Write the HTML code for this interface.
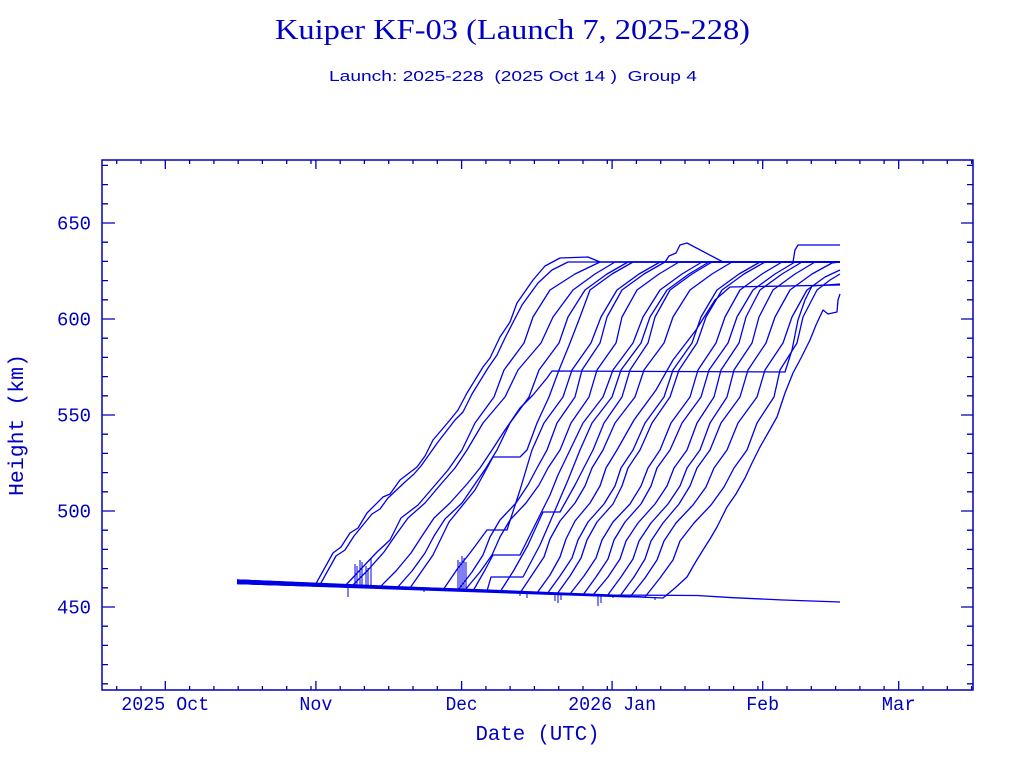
<!DOCTYPE html>
<html><head><meta charset="utf-8"><style>
html,body{margin:0;padding:0;background:#fff;}
svg{display:block;}
</style></head><body>
<svg width="1024" height="768" viewBox="0 0 1024 768" xmlns="http://www.w3.org/2000/svg">
<rect x="0" y="0" width="1024" height="768" fill="#ffffff"/>

<!-- Titles -->
<text x="512.5" y="39" text-anchor="middle" font-family="Liberation Serif, serif" font-size="28" textLength="475" lengthAdjust="spacingAndGlyphs" fill="#0000c0">Kuiper KF-03 (Launch 7, 2025-228)</text>
<text x="513" y="81" text-anchor="middle" font-family="Liberation Sans, sans-serif" font-size="15" textLength="368" lengthAdjust="spacingAndGlyphs" fill="#0000c0" xml:space="preserve">Launch: 2025-228  (2025 Oct 14 )  Group 4</text>

<!-- Frame -->
<rect x="102" y="160" width="871" height="530" fill="none" stroke="#0000b8" stroke-width="1.5"/>

<!-- Ticks -->
<g stroke="#0000b8" stroke-width="1.3" fill="none">
<path d="M165.3,690v-9M315.9,690v-9M461.6,690v-9M612.1,690v-9M762.7,690v-9M898.7,690v-9
M165.3,160v9M315.9,160v9M461.6,160v9M612.1,160v9M762.7,160v9M898.7,160v9"/>
<path d="M116.7,690v-4M141,690v-4M189.6,690v-4M213.9,690v-4M238.2,690v-4M262.4,690v-4M286.7,690v-4M311,690v-4M340.2,690v-4M364.4,690v-4M388.7,690v-4M413,690v-4M437.3,690v-4M485.9,690v-4M510.1,690v-4M534.4,690v-4M558.7,690v-4M583,690v-4M607.3,690v-4M636.4,690v-4M660.7,690v-4M685,690v-4M709.3,690v-4M733.6,690v-4M757.9,690v-4M787,690v-4M811.3,690v-4M835.6,690v-4M859.9,690v-4M884.1,690v-4M923,690v-4M947.3,690v-4M971.6,690v-4
M116.7,160v4M141,160v4M189.6,160v4M213.9,160v4M238.2,160v4M262.4,160v4M286.7,160v4M311,160v4M340.2,160v4M364.4,160v4M388.7,160v4M413,160v4M437.3,160v4M485.9,160v4M510.1,160v4M534.4,160v4M558.7,160v4M583,160v4M607.3,160v4M636.4,160v4M660.7,160v4M685,160v4M709.3,160v4M733.6,160v4M757.9,160v4M787,160v4M811.3,160v4M835.6,160v4M859.9,160v4M884.1,160v4M923,160v4M947.3,160v4M971.6,160v4"/>
<path d="M102,607h13M102,511h13M102,415h13M102,319h13M102,223h13
M973,607h-12M973,511h-12M973,415h-12M973,319h-12M973,223h-12"/>
<path d="M102,683.8h6M102,664.6h6M102,645.4h6M102,626.2h6M102,587.8h6M102,568.6h6M102,549.4h6M102,530.2h6M102,491.8h6M102,472.6h6M102,453.4h6M102,434.2h6M102,395.8h6M102,376.6h6M102,357.4h6M102,338.2h6M102,299.8h6M102,280.6h6M102,261.4h6M102,242.2h6M102,203.8h6M102,184.6h6M102,165.4h6
M973,683.8h-6M973,664.6h-6M973,645.4h-6M973,626.2h-6M973,587.8h-6M973,568.6h-6M973,549.4h-6M973,530.2h-6M973,491.8h-6M973,472.6h-6M973,453.4h-6M973,434.2h-6M973,395.8h-6M973,376.6h-6M973,357.4h-6M973,338.2h-6M973,299.8h-6M973,280.6h-6M973,261.4h-6M973,242.2h-6M973,203.8h-6M973,184.6h-6M973,165.4h-6"/>
</g>

<!-- Tick labels -->
<g font-family="Liberation Mono, monospace" font-size="19" fill="#0000c0" text-anchor="end">
<text x="91" y="613.5" textLength="34" lengthAdjust="spacingAndGlyphs">450</text>
<text x="91" y="517.5" textLength="34" lengthAdjust="spacingAndGlyphs">500</text>
<text x="91" y="421.5" textLength="34" lengthAdjust="spacingAndGlyphs">550</text>
<text x="91" y="325.5" textLength="34" lengthAdjust="spacingAndGlyphs">600</text>
<text x="91" y="229.5" textLength="34" lengthAdjust="spacingAndGlyphs">650</text>
</g>
<g font-family="Liberation Mono, monospace" font-size="19" fill="#0000c0" text-anchor="middle">
<text x="165.3" y="710" textLength="88" lengthAdjust="spacingAndGlyphs">2025 Oct</text>
<text x="315.9" y="710" textLength="33" lengthAdjust="spacingAndGlyphs">Nov</text>
<text x="461.6" y="710" textLength="32" lengthAdjust="spacingAndGlyphs">Dec</text>
<text x="612.1" y="710" textLength="88" lengthAdjust="spacingAndGlyphs">2026 Jan</text>
<text x="762.7" y="710" textLength="33" lengthAdjust="spacingAndGlyphs">Feb</text>
<text x="898.7" y="710" textLength="34" lengthAdjust="spacingAndGlyphs">Mar</text>
</g>

<!-- Axis titles -->
<text x="537.5" y="740" text-anchor="middle" font-family="Liberation Mono, monospace" font-size="21" textLength="124" lengthAdjust="spacingAndGlyphs" fill="#0000c0">Date (UTC)</text>
<text transform="translate(23,425) rotate(-90)" x="0" y="0" text-anchor="middle" font-family="Liberation Mono, monospace" font-size="21" textLength="142" lengthAdjust="spacingAndGlyphs" fill="#0000c0">Height (km)</text>

<!-- Data -->
<g fill="none" stroke="#0000e6" stroke-width="1.3" stroke-linejoin="round">
<polyline points="237,580 316,583.6 333,553 341,547 350,533 358,528 367,513 383,497 390,494 400,480 417,467 425,456 433,440 450,420 458,410 467,393 483,367 490,358 500,337 510,322 517,303 533,280 545,266 560,258 588,257 600,262 840,262"/>
<polyline points="237,581 320,584.7 336,556 345,550 354,536 372,514 380,509 388,498 405,482 414,474 421,466 438,442 455,420 463,412 472,394 488,368 497,355 505,338 522,305 538,283 552,270 568,262 840,262"/>
<polyline points="237,582 345,586 360,570 377,552 390,540 401,518 418,505 436,484 448,470 462,450 475,423 494,397 504,370 524,343 533,317 550,290 575,274 600,262 840,262"/>
<polyline points="237,583 352,586 368,570 384,552 395,536 408,518 425,503 441,484 455,468 467,450 483,423 505,397 518,370 541,343 553,317 573,290 595,274 615,262 840,262"/>
<polyline points="237,582.5 380,587 396,571 411,553 422,536 434,518 450,503 467,484 480,468 492,450 505,430 520,408 533,395 547,378 552,371 785,372 792,350 798,320 805,300 812,286 840,284"/>
<polyline points="237,583.5 397,588 412,571 425,553 434,536 445,519 462,503 475,484 486,468 497,450 510,423 529,397 539,370 559,343 568,317 585,290 607,274 628,262 840,262"/>
<polyline points="237,580 410,588 433,555 449,522 475,490 493,457 520,457 527,450 537,423 549,397 559,370 570,343 580,317 590,290 612,274 633,262 840,262"/>
<polyline points="237,581 443,590 458,568 470,553 487,530 507,530 520,490 532,450 544,423 563,397 572,370 591,343 601,317 617,290 639,274 660,262 840,262"/>
<polyline points="237,582 458,590 472,572 483,555 490,537 500,520 516,503 528,485 537,468 547,450 557,423 575,397 582,370 600,343 607,317 622,290 644,274 665,262 669,256 676,253 680,245 687,243 723,262 840,262"/>
<polyline points="237,583 465,590 480,572 492,555 500,537 510,520 526,503 539,485 548,468 560,450 571,423 589,397 597,370 616,343 622,317 637,290 659,274 679,262 840,262"/>
<polyline points="237,583.5 473,591 485,570 493,555 520,555 535,525 550,495 558,475 570,450 583,423 603,397 613,370 633,343 643,317 660,290 682,274 702,262 840,262"/>
<polyline points="237,580.5 487,591 491,577 523,577 540,545 553,515 568,480 580,450 592,423 612,397 621,370 641,343 650,317 667,290 689,274 709,262 840,262"/>
<polyline points="237,581.5 500,592 514,570 528,545 543,512 560,512 575,485 593,450 604,423 622,397 630,370 648,343 655,317 670,290 692,274 712,262 840,262"/>
<polyline points="237,582.5 520,593 532,575 544,557 550,539 560,521 575,503 585,486 592,468 603,450 615,423 635,397 644,370 664,343 673,317 690,290 712,274 732,262 840,262"/>
<polyline points="237,583.5 537,593 550,575 560,557 566,539 575,521 590,503 600,486 606,468 617,450 634,420 656,390 673,360 696,330 715,300 730,287 840,285"/>
<polyline points="237,580 547,594 560,576 572,558 578,540 588,522 604,504 615,486 621,468 633,450 645,423 664,397 673,370 692,343 701,317 717,290 739,274 760,262 840,262"/>
<polyline points="237,581 557,594 570,576 581,558 587,540 597,522 613,504 622,486 628,468 640,450 652,423 670,397 679,370 697,343 706,317 722,290 744,274 765,262 840,262"/>
<polyline points="237,582 570,594 584,576 596,558 602,540 613,522 630,504 641,486 648,468 660,450 671,423 690,397 698,370 716,343 725,317 740,290 762,274 782,262 793,262 795,250 798,245 840,245"/>
<polyline points="237,583 583,595 596,577 608,559 614,540 625,522 641,504 651,486 657,468 670,450 682,423 701,397 709,370 728,343 737,317 753,290 775,274 795,262 840,262"/>
<polyline points="237,580.5 593,595 608,577 620,559 626,541 638,523 655,504 667,486 674,468 687,450 697,423 714,397 721,370 739,343 746,317 760,290 782,274 802,262 840,262"/>
<polyline points="237,581.5 607,596 621,577 633,559 639,541 651,523 668,504 680,486 687,468 700,450 710,423 727,397 734,370 752,343 759,317 773,290 795,274 815,262 840,262"/>
<polyline points="237,582.5 620,596 634,577 645,559 651,541 663,523 679,504 690,486 697,468 710,450 721,423 740,397 748,370 766,343 775,317 790,290 812,274 832,263 840,262"/>
<polyline points="237,583.5 630,597 645,578 657,560 664,541 676,523 693,505 706,487 714,468 727,450 738,423 757,397 765,370 783,343 792,317 807,290 825,277 840,270"/>
<polyline points="237,580 645,597 660,578 673,560 680,541 694,523 711,505 724,487 734,468 747,450 757,423 774,397 780,370 797,343 803,317 817,290 830,280 840,274"/>
<polyline points="237,581 663,598 675,588 687,577 695,563 703,550 710,539 717,527 727,507 736,494 745,478 752,463 760,447 768,433 777,417 785,393 793,373 801,358 810,340 816,325 823,310 828,314 837,312 838,300 840,294"/>
<polyline points="237,582 460,589 560,593 612,595 697,595.5 733,597.7 783,600 840,602"/>
</g>
<!-- spikes -->
<g fill="none" stroke="#0000e6" stroke-width="1">
<path d="M355,586V564M357,586V566M360,586V560M362,586V562M366,586V566M368,586V568M371,587V558M458,590V560M460,590V562M462,590V556M464,590V558M466,590V562M348,585V597M527,592V598M555,593V601M558,593V603M561,593V600M598,595V606M601,595V603M655,597V600M613,595V598M424,589V592M520,592V596"/>
</g>
</svg>
</body></html>
